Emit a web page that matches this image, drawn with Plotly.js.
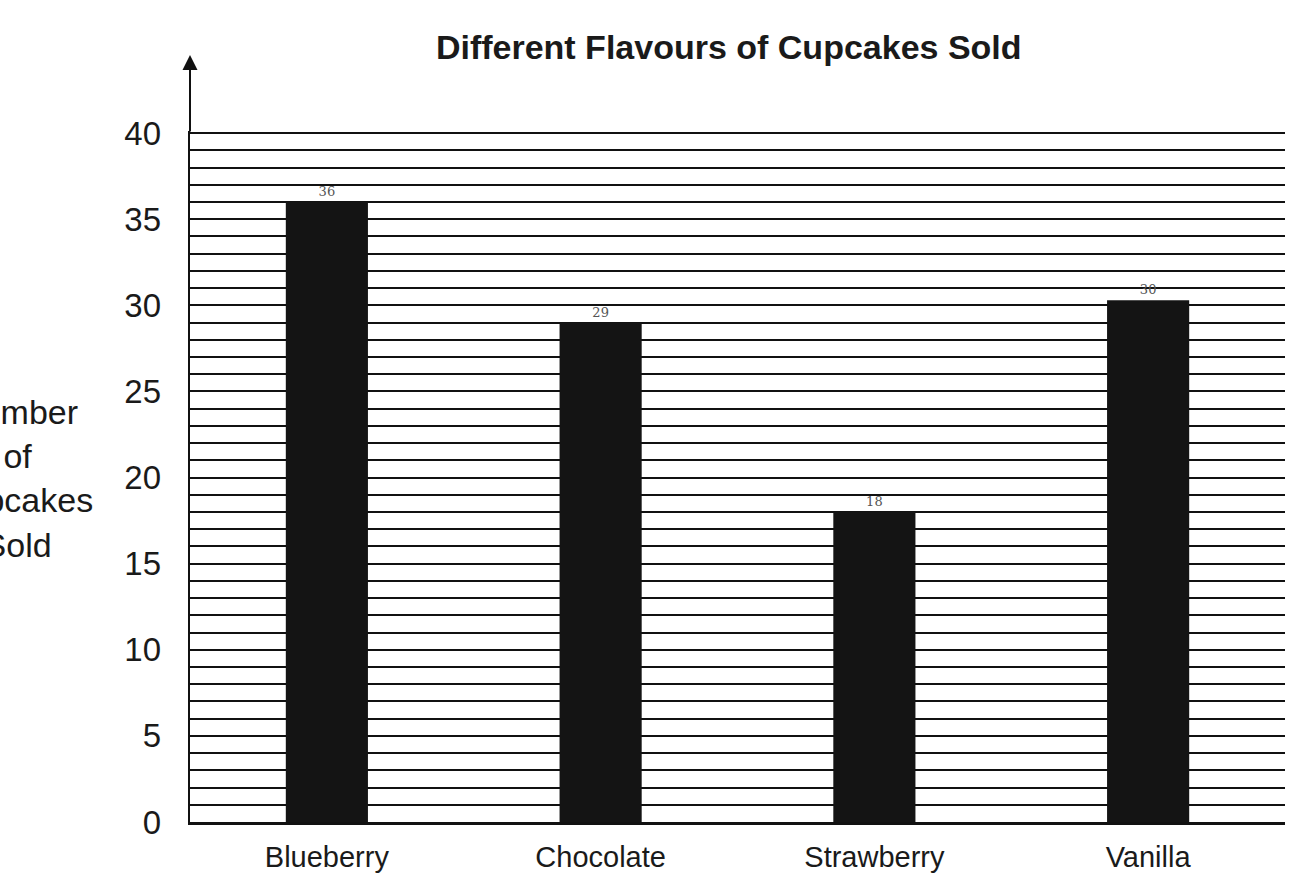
<!DOCTYPE html>
<html>
<head>
<meta charset="utf-8">
<script src="https://cdn.plot.ly/plotly-3.0.1.min.js"></script>
<style>html,body{margin:0;padding:0;background:#fff;}#chart{width:1312px;height:896px;}</style>
</head>
<body>
<div id="chart"></div>
<script>
const flavours = ["Blueberry", "Chocolate", "Strawberry", "Vanilla"];
const cupcakesSold = [36, 29, 18, 30.3];
const valueLabels = ["36", "29", "18", "30"];
const yTickValues = [0, 5, 10, 15, 20, 25, 30, 35, 40];

const FONT = "Liberation Sans, Arial, sans-serif";

const trace = {
  type: "bar",
  x: flavours,
  y: cupcakesSold,
  width: 0.3,
  marker: {color: "#141414", line: {width: 0}},
  text: valueLabels,
  textposition: "outside",
  cliponaxis: false,
  textfont: {family: "DejaVu Serif", size: 13, color: "#555"},
  hoverinfo: "x+y"
};

const axisTrace = {type: "scatter", x: [], y: [], yaxis: "y2", hoverinfo: "skip"};

const layout = {
  width: 1312, height: 896,
  paper_bgcolor: "#fff", plot_bgcolor: "#fff",
  margin: {l: 190, r: 27, t: 131, b: 74},
  showlegend: false,
  font: {family: FONT, color: "#1a1a1a"},
  title: {
    text: "<b>Different Flavours of Cupcakes Sold</b>",
    font: {size: 34, color: "#1a1a1a", family: FONT},
    x: 0.492, xref: "paper", xanchor: "center",
    y: 0.947, yref: "container", yanchor: "middle"
  },
  xaxis: {
    type: "category",
    range: [-0.5, 3.5],
    showgrid: false,
    showline: true, linecolor: "#111", linewidth: 2.5,
    ticks: "", ticklabelstandoff: 8,
    tickfont: {size: 29, color: "#1a1a1a", family: FONT},
    zeroline: false, fixedrange: true
  },
  yaxis: {
    range: [0, 40.12],
    dtick: 1, tick0: 0,
    tickmode: "linear",
    showgrid: true, gridcolor: "#111", gridwidth: 2,
    showline: true, linecolor: "#111", linewidth: 2.5,
    ticks: "",
    showticklabels: false,
    zeroline: false, fixedrange: true
  },
  yaxis2: {
    overlaying: "y", side: "left", range: [0, 40.12],
    tickmode: "array", tickvals: yTickValues,
    showgrid: false, showline: false, zeroline: false,
    ticks: "", ticklabelstandoff: 28,
    tickfont: {size: 33, color: "#1a1a1a", family: FONT}, fixedrange: true
  },
  annotations: [
    {
      xref: "paper", yref: "paper", x: 0, y: 1.11, ax: 0, ay: 78,
      axref: "pixel", ayref: "pixel",
      showarrow: true, arrowhead: 2, arrowsize: 1.5, arrowwidth: 2, arrowcolor: "#111",
      text: ""
    },
    {
      xref: "paper", yref: "paper",
      x: -0.1572, y: 0.497, xanchor: "center", yanchor: "middle",
      text: "Number<br>of<br>Cupcakes<br>Sold",
      align: "center", showarrow: false,
      font: {size: 34, color: "#1a1a1a", family: FONT}
    }
  ]
};

Plotly.newPlot("chart", [trace, axisTrace], layout, {displayModeBar: false, staticPlot: true});
</script>
</body>
</html>
